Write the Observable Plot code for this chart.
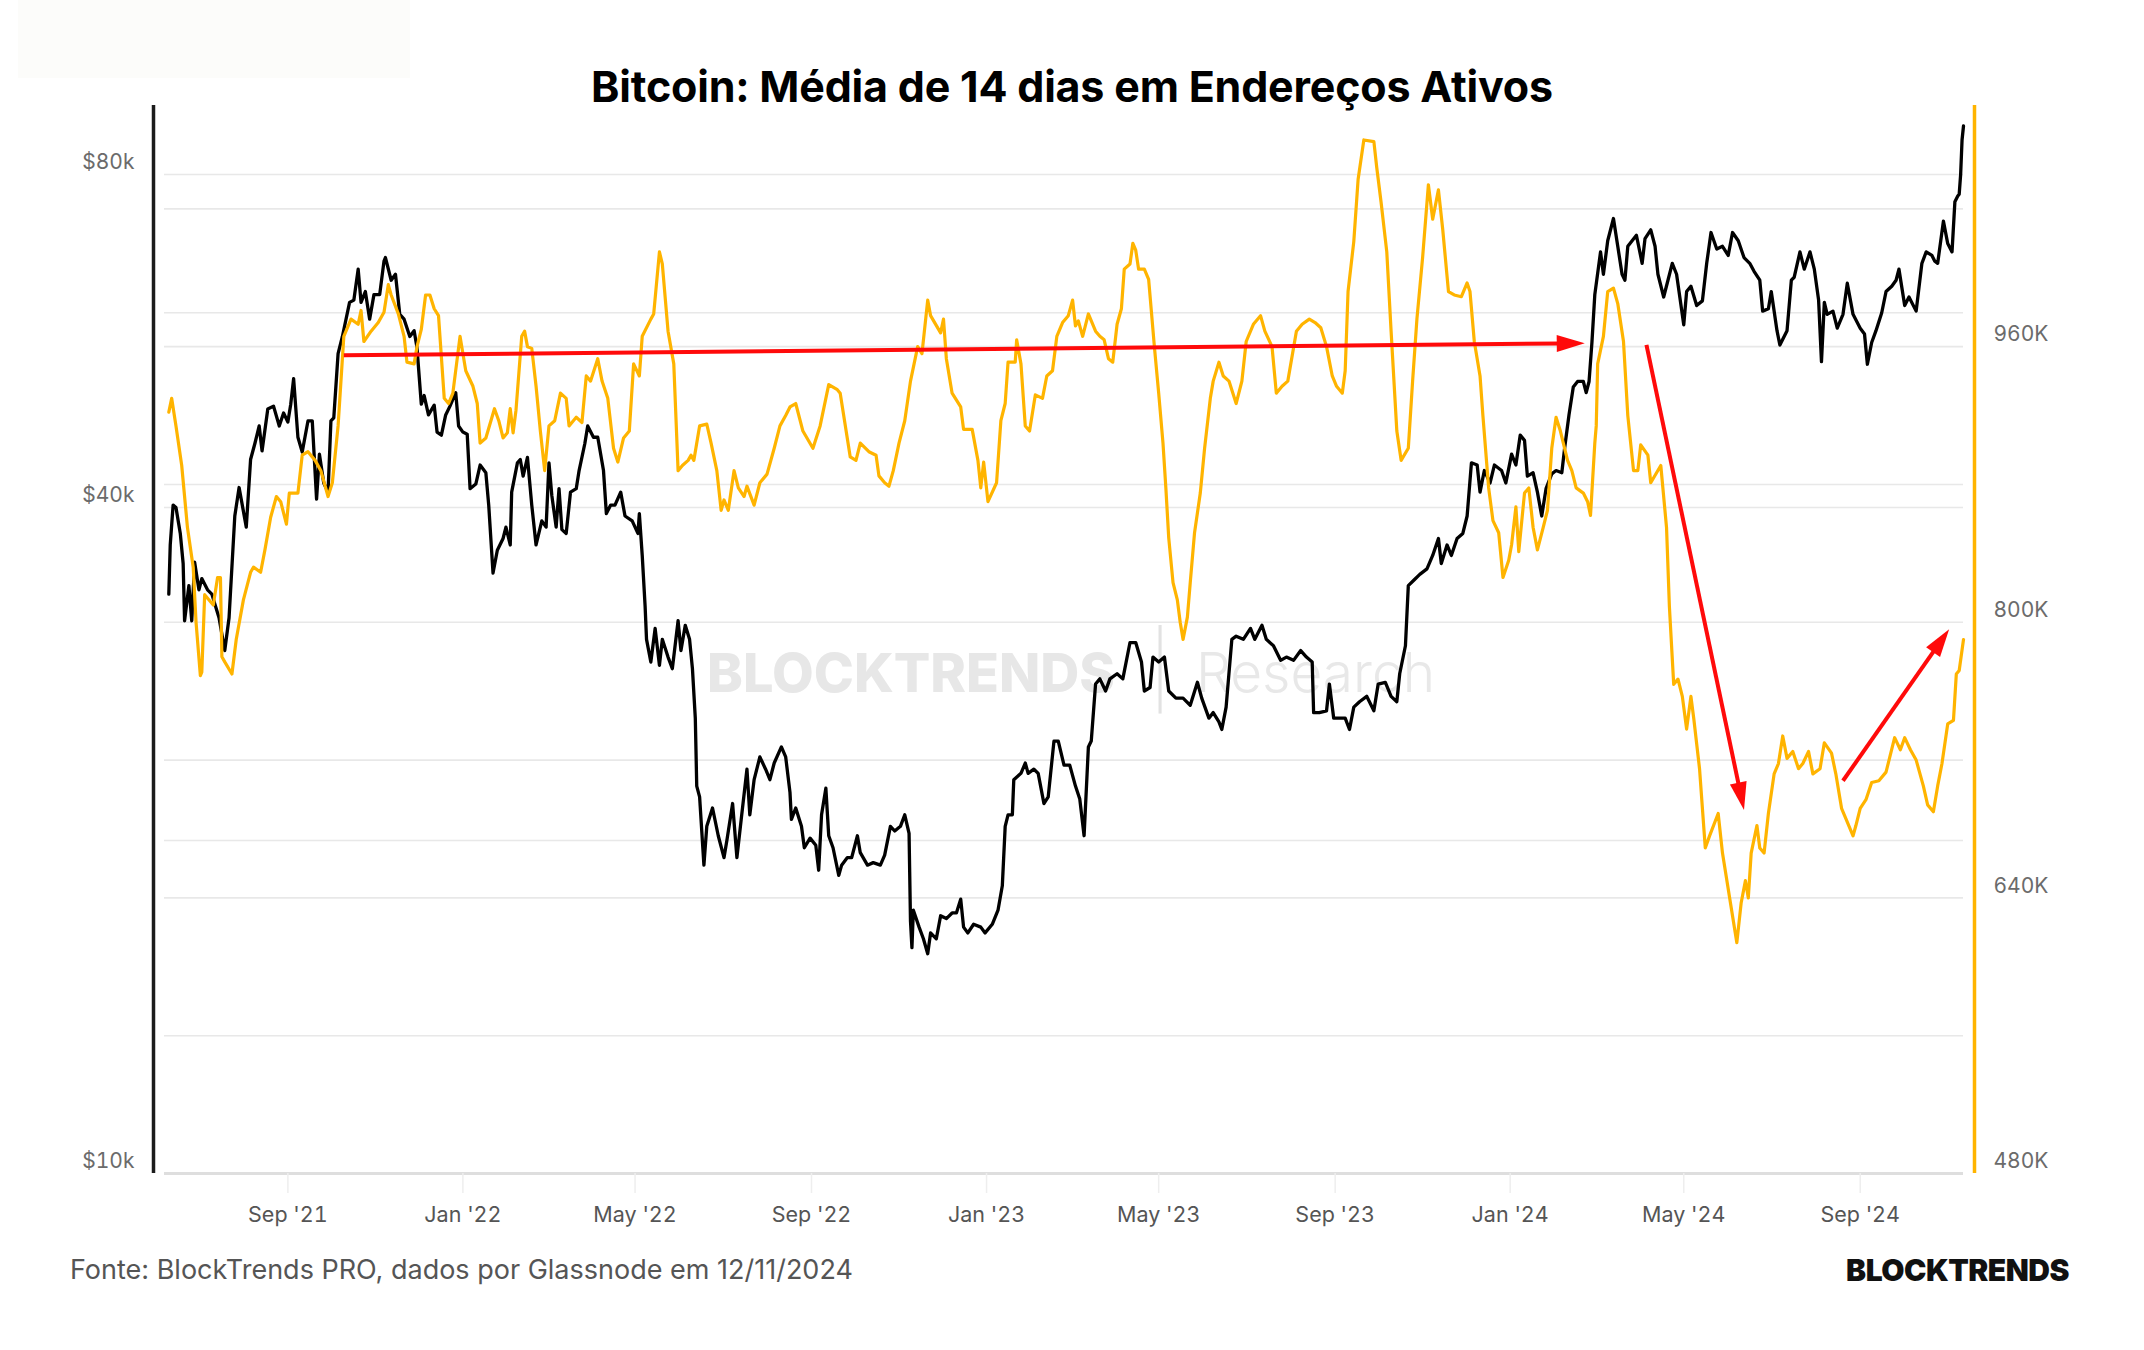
<!DOCTYPE html>
<html lang="pt-BR">
<head>
<meta charset="utf-8">
<title>Bitcoin: Média de 14 dias em Endereços Ativos</title>
<script src="https://cdn.jsdelivr.net/npm/d3@7"></script>
<script src="https://cdn.jsdelivr.net/npm/@observablehq/plot@0.6"></script>
<style>
  html, body { margin: 0; padding: 0; background: #fff; }
  body { width: 2144px; height: 1350px; position: relative; overflow: hidden; font-family: Inter, "Noto Sans", sans-serif; }
  #corner { position: absolute; left: 18px; top: 0; width: 392px; height: 78px; background: #fcfcfa; }
  #title { position: absolute; left: 0; width: 2144px; top: 61px; text-align: center; font-size: 43px; font-weight: 700; color: #000; line-height: 50px; letter-spacing: -0.2px; }
  #chart { position: absolute; left: 0; top: 100px; }
  #source { position: absolute; left: 70px; top: 1254px; font-size: 27px; line-height: 32px; color: #555; }
  #brand { position: absolute; right: 75px; top: 1254px; font-size: 30px; line-height: 32px; font-weight: 900; color: #111; letter-spacing: -0.5px; }
</style>
</head>
<body>
<div id="corner"></div>
<div id="title">Bitcoin: Média de 14 dias em Endereços Ativos</div>
<div id="chart"></div>
<div id="source">Fonte: BlockTrends PRO, dados por Glassnode em 12/11/2024</div>
<div id="brand">BLOCKTRENDS</div>
<script>
// ---- Bitcoin price (USD thousands), left log axis ----
const priceDates = [
  "2021-06-10","2021-06-11","2021-06-13","2021-06-15","2021-06-18","2021-06-20","2021-06-21","2021-06-24","2021-06-26","2021-06-28",
  "2021-07-01","2021-07-03","2021-07-07","2021-07-10","2021-07-15","2021-07-19","2021-07-22","2021-07-26","2021-07-29","2021-08-03",
  "2021-08-06","2021-08-09","2021-08-12","2021-08-14","2021-08-18","2021-08-22","2021-08-26","2021-08-29","2021-09-01","2021-09-03",
  "2021-09-05","2021-09-08","2021-09-11","2021-09-15","2021-09-18","2021-09-21","2021-09-23","2021-09-26","2021-09-29","2021-10-01",
  "2021-10-03","2021-10-06","2021-10-09","2021-10-14","2021-10-17","2021-10-20","2021-10-22","2021-10-25","2021-10-28","2021-10-31",
  "2021-11-04","2021-11-07","2021-11-08","2021-11-12","2021-11-15","2021-11-18","2021-11-21","2021-11-25","2021-11-28","2021-11-30",
  "2021-12-03","2021-12-05","2021-12-08","2021-12-12","2021-12-14","2021-12-17","2021-12-20","2021-12-23","2021-12-27","2021-12-29",
  "2022-01-01","2022-01-04","2022-01-06","2022-01-10","2022-01-13","2022-01-17","2022-01-19","2022-01-22","2022-01-25","2022-01-29",
  "2022-01-31","2022-02-03","2022-02-04","2022-02-08","2022-02-10","2022-02-12","2022-02-15","2022-02-18","2022-02-21","2022-02-25",
  "2022-02-28","2022-03-02","2022-03-04","2022-03-07","2022-03-09","2022-03-11","2022-03-14","2022-03-17","2022-03-21","2022-03-23",
  "2022-03-27","2022-03-29","2022-04-02","2022-04-05","2022-04-09","2022-04-11","2022-04-14","2022-04-17","2022-04-21","2022-04-24",
  "2022-04-29","2022-05-03","2022-05-04","2022-05-06","2022-05-08","2022-05-09","2022-05-12","2022-05-15","2022-05-18","2022-05-20",
  "2022-05-24","2022-05-27","2022-05-31","2022-06-02","2022-06-05","2022-06-08","2022-06-10","2022-06-12","2022-06-13","2022-06-15",
  "2022-06-18","2022-06-20","2022-06-24","2022-06-28","2022-07-02","2022-07-04","2022-07-08","2022-07-11","2022-07-14","2022-07-18",
  "2022-07-20","2022-07-23","2022-07-27","2022-07-31","2022-08-03","2022-08-06","2022-08-11","2022-08-14","2022-08-17","2022-08-18",
  "2022-08-21","2022-08-25","2022-08-27","2022-08-31","2022-09-04","2022-09-06","2022-09-08","2022-09-11","2022-09-13","2022-09-16",
  "2022-09-20","2022-09-22","2022-09-26","2022-09-29","2022-10-03","2022-10-05","2022-10-10","2022-10-14","2022-10-19","2022-10-22",
  "2022-10-26","2022-10-29","2022-11-02","2022-11-05","2022-11-08","2022-11-09","2022-11-10","2022-11-11","2022-11-15","2022-11-18",
  "2022-11-21","2022-11-23","2022-11-27","2022-11-30","2022-12-04","2022-12-08","2022-12-11","2022-12-14","2022-12-16","2022-12-19",
  "2022-12-23","2022-12-28","2022-12-31","2023-01-05","2023-01-09","2023-01-12","2023-01-14","2023-01-16","2023-01-19","2023-01-20",
  "2023-01-25","2023-01-28","2023-01-30","2023-02-03","2023-02-06","2023-02-10","2023-02-13","2023-02-17","2023-02-20","2023-02-24",
  "2023-02-28","2023-03-04","2023-03-07","2023-03-10","2023-03-13","2023-03-15","2023-03-18","2023-03-21","2023-03-25","2023-03-28",
  "2023-04-02","2023-04-06","2023-04-11","2023-04-15","2023-04-19","2023-04-21","2023-04-25","2023-04-27","2023-05-01","2023-05-05",
  "2023-05-08","2023-05-13","2023-05-18","2023-05-23","2023-05-28","2023-05-31","2023-06-05","2023-06-08","2023-06-12","2023-06-14",
  "2023-06-17","2023-06-21","2023-06-24","2023-06-29","2023-07-04","2023-07-07","2023-07-12","2023-07-15","2023-07-20","2023-07-25",
  "2023-07-29","2023-08-03","2023-08-08","2023-08-12","2023-08-16","2023-08-17","2023-08-21","2023-08-26","2023-08-28","2023-08-31",
  "2023-09-04","2023-09-08","2023-09-11","2023-09-14","2023-09-18","2023-09-23","2023-09-28","2023-10-01","2023-10-06","2023-10-10",
  "2023-10-14","2023-10-16","2023-10-20","2023-10-22","2023-10-26","2023-10-30","2023-11-04","2023-11-08","2023-11-12","2023-11-14",
  "2023-11-18","2023-11-21","2023-11-25","2023-11-29","2023-12-02","2023-12-05","2023-12-09","2023-12-11","2023-12-14","2023-12-18",
  "2023-12-21","2023-12-26","2023-12-29","2024-01-02","2024-01-05","2024-01-08","2024-01-11","2024-01-13","2024-01-17","2024-01-20",
  "2024-01-23","2024-01-26","2024-01-30","2024-02-02","2024-02-06","2024-02-08","2024-02-11","2024-02-14","2024-02-17","2024-02-21",
  "2024-02-23","2024-02-25","2024-02-27","2024-02-29","2024-03-04","2024-03-06","2024-03-09","2024-03-13","2024-03-16","2024-03-19",
  "2024-03-21","2024-03-23","2024-03-26","2024-03-29","2024-04-02","2024-04-04","2024-04-08","2024-04-11","2024-04-13","2024-04-17",
  "2024-04-20","2024-04-23","2024-04-26","2024-05-01","2024-05-03","2024-05-06","2024-05-10","2024-05-14","2024-05-17","2024-05-20",
  "2024-05-24","2024-05-28","2024-06-01","2024-06-04","2024-06-08","2024-06-12","2024-06-16","2024-06-19","2024-06-23","2024-06-25",
  "2024-06-29","2024-07-01","2024-07-05","2024-07-07","2024-07-12","2024-07-15","2024-07-17","2024-07-21","2024-07-24","2024-07-28",
  "2024-07-31","2024-08-03","2024-08-05","2024-08-07","2024-08-09","2024-08-13","2024-08-16","2024-08-20","2024-08-23","2024-08-27",
  "2024-09-01","2024-09-04","2024-09-06","2024-09-09","2024-09-12","2024-09-16","2024-09-19","2024-09-23","2024-09-26","2024-09-28",
  "2024-10-02","2024-10-05","2024-10-10","2024-10-14","2024-10-17","2024-10-21","2024-10-23","2024-10-25","2024-10-29","2024-11-01",
  "2024-11-04","2024-11-06","2024-11-08","2024-11-09","2024-11-10","2024-11-11","2024-11-12"
];
const priceK = [
  33.4,37.0,40.2,40.0,37.9,35.6,31.6,34.0,31.6,35.7,
  33.7,34.5,33.7,33.4,31.8,29.7,31.8,39.3,41.7,38.4,
  44.2,45.7,47.4,45.0,49.1,49.4,47.4,48.7,47.8,49.6,
  52.3,46.3,44.9,47.9,47.9,40.7,44.7,42.1,41.3,47.9,
  48.2,55.1,57.1,61.3,61.6,65.7,61.3,62.7,59.2,62.3,
  62.3,66.8,67.3,64.2,65.0,59.8,59.2,57.1,57.8,55.8,
  49.6,50.5,48.5,49.5,46.8,46.5,48.5,49.4,50.8,47.4,
  46.8,46.6,41.6,42.0,43.7,43.0,40.2,34.9,36.6,37.5,
  38.4,37.0,41.3,43.9,44.2,42.7,44.4,40.2,37.0,38.9,
  38.4,43.9,41.0,38.4,41.6,38.2,37.9,41.3,41.6,43.2,
  45.7,47.4,46.3,46.3,43.2,39.5,40.2,40.2,41.3,39.3,
  38.9,37.9,39.5,36.2,32.6,30.4,29.0,31.1,28.8,30.4,
  29.3,28.6,31.6,29.7,31.3,30.4,28.6,25.8,22.4,21.9,
  19.0,20.6,21.4,20.2,19.3,20.0,21.6,19.3,20.9,23.2,
  21.1,22.7,23.8,23.2,22.7,23.5,24.3,23.8,22.1,20.9,
  21.4,20.6,19.7,20.1,19.8,18.8,21.1,22.3,20.2,19.7,
  18.6,19.0,19.3,19.3,20.2,19.5,19.0,19.1,19.0,19.4,
  20.6,20.4,20.6,21.1,20.3,16.9,16.0,17.3,16.7,16.3,
  15.8,16.5,16.3,17.1,17.0,17.2,17.2,17.7,16.7,16.5,
  16.8,16.7,16.5,16.8,17.3,18.2,20.6,21.1,21.1,22.7,
  23.0,23.5,23.0,23.2,23.0,21.6,21.9,24.6,24.6,23.4,
  23.4,22.4,21.8,20.2,24.3,24.6,27.7,28.0,27.3,28.0,
  28.3,28.0,30.2,30.2,29.0,27.3,27.5,29.3,29.0,29.3,
  27.3,26.9,26.9,26.5,27.8,26.9,25.8,26.1,25.6,25.2,
  26.4,30.4,30.6,30.4,31.1,30.4,31.3,30.4,30.0,29.1,
  29.3,29.1,29.7,29.3,29.0,26.1,26.1,26.2,27.7,25.8,
  25.8,25.8,25.2,26.4,26.7,27.0,26.2,27.7,27.8,27.0,
  26.7,28.3,30.0,34.0,34.4,34.8,35.2,36.2,37.5,35.6,
  37.0,36.2,37.5,37.9,39.3,43.9,43.7,41.3,43.2,42.1,
  43.7,43.2,42.1,44.7,43.7,46.5,46.0,42.7,43.0,41.3,
  39.3,41.6,42.9,43.2,43.0,45.3,48.5,51.4,52.0,52.0,
  50.8,52.0,56.4,62.3,68.1,65.0,69.7,73.0,68.9,65.0,
  64.2,68.9,69.7,70.5,66.5,70.0,71.3,68.9,65.0,62.0,
  64.2,66.5,65.0,58.5,62.7,63.4,60.9,61.5,66.5,70.9,
  68.5,68.9,67.6,70.9,69.7,67.3,66.5,65.4,64.2,60.2,
  60.5,62.7,57.8,56.1,57.8,64.2,64.6,68.1,65.7,68.1,
  65.7,61.6,54.2,61.3,59.8,60.2,58.1,59.8,63.8,59.8,
  58.1,57.4,53.9,56.4,57.8,60.0,62.7,63.4,64.2,65.7,
  60.9,62.0,60.2,66.5,68.1,67.6,66.8,66.5,72.6,69.3,
  68.1,75.6,76.5,76.8,80.0,86.0,88.5
];

// ---- 14-day average of active addresses (thousands), right linear axis ----
const addrDates = [
  "2021-06-10","2021-06-12","2021-06-15","2021-06-19","2021-06-23","2021-06-27","2021-06-29","2021-07-02","2021-07-03","2021-07-05",
  "2021-07-11","2021-07-14","2021-07-16","2021-07-17","2021-07-19","2021-07-24","2021-07-27","2021-08-01","2021-08-06","2021-08-08",
  "2021-08-13","2021-08-16","2021-08-20","2021-08-24","2021-08-27","2021-08-31","2021-09-02","2021-09-08","2021-09-11","2021-09-15",
  "2021-09-20","2021-09-24","2021-09-29","2021-10-02","2021-10-06","2021-10-08","2021-10-10","2021-10-15","2021-10-20","2021-10-22",
  "2021-10-24","2021-10-29","2021-11-03","2021-11-07","2021-11-10","2021-11-12","2021-11-17","2021-11-21","2021-11-23","2021-11-28",
  "2021-11-30","2021-12-03","2021-12-06","2021-12-09","2021-12-12","2021-12-15","2021-12-19","2021-12-22","2021-12-25","2021-12-30",
  "2022-01-03","2022-01-08","2022-01-11","2022-01-13","2022-01-17","2022-01-23","2022-01-26","2022-01-29","2022-02-01","2022-02-03",
  "2022-02-05","2022-02-07","2022-02-11","2022-02-13","2022-02-15","2022-02-18","2022-02-21","2022-02-24","2022-02-27","2022-03-02",
  "2022-03-06","2022-03-10","2022-03-14","2022-03-16","2022-03-21","2022-03-25","2022-03-28","2022-03-31","2022-04-05","2022-04-08",
  "2022-04-12","2022-04-16","2022-04-19","2022-04-23","2022-04-27","2022-04-30","2022-05-04","2022-05-06","2022-05-12","2022-05-14",
  "2022-05-18","2022-05-20","2022-05-24","2022-05-28","2022-05-31","2022-06-03","2022-06-07","2022-06-09","2022-06-11","2022-06-15",
  "2022-06-20","2022-06-23","2022-06-27","2022-06-30","2022-07-02","2022-07-05","2022-07-09","2022-07-12","2022-07-16","2022-07-18",
  "2022-07-23","2022-07-27","2022-08-01","2022-08-06","2022-08-10","2022-08-14","2022-08-17","2022-08-21","2022-08-26","2022-09-02",
  "2022-09-07","2022-09-13","2022-09-19","2022-09-21","2022-09-28","2022-10-02","2022-10-05","2022-10-11","2022-10-16","2022-10-18",
  "2022-10-22","2022-10-25","2022-10-28","2022-11-01","2022-11-05","2022-11-09","2022-11-14","2022-11-17","2022-11-21","2022-11-23",
  "2022-11-30","2022-12-02","2022-12-04","2022-12-08","2022-12-14","2022-12-16","2022-12-22","2022-12-26","2022-12-28","2022-12-30",
  "2023-01-02","2023-01-08","2023-01-11","2023-01-14","2023-01-16","2023-01-21","2023-01-22","2023-01-25","2023-01-28","2023-01-31",
  "2023-02-04","2023-02-09","2023-02-12","2023-02-16","2023-02-19","2023-02-23","2023-02-27","2023-03-02","2023-03-04","2023-03-06",
  "2023-03-09","2023-03-13","2023-03-18","2023-03-21","2023-03-24","2023-03-27","2023-03-30","2023-04-02","2023-04-05","2023-04-07",
  "2023-04-11","2023-04-13","2023-04-15","2023-04-17","2023-04-21","2023-04-24","2023-04-28","2023-05-01","2023-05-04","2023-05-06",
  "2023-05-08","2023-05-11","2023-05-14","2023-05-16","2023-05-18","2023-05-21","2023-05-23","2023-05-26","2023-05-30","2023-06-02",
  "2023-06-06","2023-06-08","2023-06-12","2023-06-15","2023-06-19","2023-06-24","2023-06-28","2023-07-01","2023-07-06","2023-07-11",
  "2023-07-14","2023-07-19","2023-07-22","2023-07-26","2023-07-30","2023-08-05","2023-08-09","2023-08-14","2023-08-18","2023-08-22",
  "2023-08-26","2023-08-30","2023-09-02","2023-09-06","2023-09-08","2023-09-10","2023-09-14","2023-09-17","2023-09-21","2023-09-28",
  "2023-09-30","2023-10-03","2023-10-07","2023-10-10","2023-10-14","2023-10-17","2023-10-22","2023-10-25","2023-10-28","2023-11-01",
  "2023-11-05","2023-11-08","2023-11-12","2023-11-15","2023-11-19","2023-11-23","2023-11-28","2023-12-02","2023-12-04","2023-12-07",
  "2023-12-11","2023-12-13","2023-12-17","2023-12-20","2023-12-24","2023-12-27","2023-12-31","2024-01-02","2024-01-05","2024-01-07",
  "2024-01-11","2024-01-14","2024-01-17","2024-01-20","2024-01-24","2024-01-27","2024-01-30","2024-02-02","2024-02-05","2024-02-10",
  "2024-02-13","2024-02-16","2024-02-21","2024-02-24","2024-02-26","2024-02-29","2024-03-01","2024-03-02","2024-03-06","2024-03-09",
  "2024-03-13","2024-03-16","2024-03-20","2024-03-23","2024-03-27","2024-03-30","2024-04-01","2024-04-06","2024-04-08","2024-04-15",
  "2024-04-19","2024-04-21","2024-04-24","2024-04-27","2024-04-30","2024-05-03","2024-05-06","2024-05-08","2024-05-12","2024-05-16",
  "2024-05-19","2024-05-25","2024-05-28","2024-06-02","2024-06-07","2024-06-10","2024-06-13","2024-06-15","2024-06-17","2024-06-21",
  "2024-06-23","2024-06-26","2024-06-29","2024-07-03","2024-07-06","2024-07-09","2024-07-12","2024-07-16","2024-07-20","2024-07-23",
  "2024-07-27","2024-07-30","2024-08-04","2024-08-07","2024-08-12","2024-08-15","2024-08-19","2024-08-22","2024-08-27","2024-08-29",
  "2024-09-01","2024-09-05","2024-09-09","2024-09-14","2024-09-19","2024-09-22","2024-09-25","2024-09-29","2024-10-02","2024-10-06",
  "2024-10-10","2024-10-15","2024-10-18","2024-10-22","2024-10-25","2024-10-28","2024-11-01","2024-11-05","2024-11-07","2024-11-09",
  "2024-11-12"
];
const addrK = [
  922,930,914,891,855,832,800,769,771,816,
  810,826,826,780,777,770,790,813,829,832,
  829,842,861,873,870,857,875,875,897,899,
  894,888,873,881,914,940,966,976,973,981,
  963,969,974,980,996,990,979,966,951,950,
  960,970,990,990,982,978,930,927,933,966,
  946,937,927,904,907,924,917,907,910,924,
  910,923,966,969,960,959,937,911,888,914,
  917,933,930,914,919,916,943,940,953,940,
  930,901,893,907,911,950,943,966,976,979,
  1015,1008,969,950,888,891,894,897,894,914,
  915,904,888,865,871,865,888,878,873,879,
  868,881,886,901,914,920,925,927,911,901,
  914,938,935,933,896,894,904,899,897,885,
  881,879,888,904,917,940,960,956,987,978,
  968,976,953,933,925,912,912,894,878,893,
  870,881,917,927,951,951,964,950,914,911,
  932,930,943,946,966,974,978,987,972,975,
  966,979,969,966,964,953,951,973,982,1005,
  1008,1020,1016,1005,1005,999,960,933,904,878,
  849,823,813,800,790,803,823,852,875,901,
  930,940,951,943,940,927,940,963,973,978,
  969,960,933,937,940,969,973,976,974,971,
  960,943,937,933,946,992,1021,1057,1080,1079,
  1064,1044,1015,969,911,894,901,940,976,1012,
  1054,1034,1051,1028,992,990,989,997,992,963,
  943,920,878,859,852,826,836,845,867,841,
  875,878,855,842,855,865,901,919,911,894,
  888,878,875,870,862,904,914,950,966,992,
  994,985,963,920,888,888,903,897,881,891,
  855,809,764,767,757,738,757,744,715,669,
  676,689,666,640,614,637,650,640,666,682,
  669,666,689,712,718,734,721,725,715,718,
  725,712,715,730,724,712,692,686,676,682,
  692,697,707,708,713,723,733,726,733,726,
  720,705,694,690,705,718,741,743,770,772,
  790
];

// ---- axis ticks and gridlines ----
const xTickDates = ["2021-09-01","2022-01-01","2022-05-01","2022-09-01","2023-01-01","2023-05-01","2023-09-01","2024-01-01","2024-05-01","2024-09-01"];
const monthNames = ["Jan","Feb","Mar","Apr","May","Jun","Jul","Aug","Sep","Oct","Nov","Dec"];
const priceTicksK = [10, 40, 80];
const priceGridK = [20, 40, 60, 80];
const addrTicksK = [480, 640, 800, 960];
const addrGridK = [560, 640, 720, 800, 880, 960, 1040];

// ---- annotation arrows (in active-address units) ----
const arrowFromDates = ["2021-10-10", "2024-04-05", "2024-08-20"];
const arrowFromK = [955, 961, 708];
const arrowToDates = ["2024-02-22", "2024-06-12", "2024-11-02"];
const arrowToK = [962, 691, 796];

// ---- layout ----
const W = 2144, H = 1133;
const mL = 164, mR = 181, mT = 5, mB = 60;
const xDomain = [new Date("2021-06-07"), new Date("2024-11-12")];
const yMin = 10000, yMax = 92360;           // price domain (log)
const aMin = 480000, aMax = 1100000;        // active addresses domain (linear)
const ORANGE = "#ffb400";
const RED = "#ff0a0a";

// Map an address count onto the price axis so both series share the frame.
const addrToY = a => yMin * Math.pow(yMax / yMin, (a - aMin) / (aMax - aMin));
const yToAddr = p => aMin + (aMax - aMin) * Math.log(p / yMin) / Math.log(yMax / yMin);

const priceRows = priceDates.map((d, i) => ({date: new Date(d), price: priceK[i] * 1000}));
const addrRows = addrDates.map((d, i) => ({date: new Date(d), y: addrToY(addrK[i] * 1000)}));

// Same scale definitions as the plot, used to orient arrowheads in screen space.
const xs = d3.scaleUtc().domain(xDomain).range([mL, W - mR]);
const ys = d3.scaleLog().domain([yMin, yMax]).range([H - mB, mT]);

const HEAD_LEN = 28, HEAD_W = 17;
function headSymbol(ux, uy) {
  return {
    draw(ctx) {
      const bx = -ux * HEAD_LEN, by = -uy * HEAD_LEN;
      const px = -uy * HEAD_W / 2, py = ux * HEAD_W / 2;
      ctx.moveTo(0, 0);
      ctx.lineTo(bx + px, by + py);
      ctx.lineTo(bx - px, by - py);
      ctx.closePath();
    }
  };
}

const shafts = [];
const heads = [];
arrowFromDates.forEach((d, i) => {
  const from = {date: new Date(d), y: addrToY(arrowFromK[i] * 1000)};
  const to = {date: new Date(arrowToDates[i]), y: addrToY(arrowToK[i] * 1000)};
  const x0 = xs(from.date), y0 = ys(from.y), x1 = xs(to.date), y1 = ys(to.y);
  const len = Math.hypot(x1 - x0, y1 - y0);
  const ux = (x1 - x0) / len, uy = (y1 - y0) / len;
  const sx = x1 - ux * (HEAD_LEN - 4), sy = y1 - uy * (HEAD_LEN - 4);
  shafts.push({x1: from.date, y1: from.y, x2: xs.invert(sx), y2: ys.invert(sy)});
  heads.push({row: to, symbol: headSymbol(ux, uy)});
});

const fmtMonth = d => `${monthNames[d.getUTCMonth()]} '${String(d.getUTCFullYear()).slice(2)}`;

const plot = Plot.plot({
  width: W,
  height: H,
  marginLeft: mL,
  marginRight: mR,
  marginTop: mT,
  marginBottom: mB,
  style: {fontFamily: "Inter, 'Noto Sans', sans-serif", background: "transparent", overflow: "visible"},
  x: {type: "utc", domain: xDomain, label: null},
  y: {type: "log", domain: [yMin, yMax], label: null},
  marks: [
    // gridlines
    Plot.ruleY(priceGridK.map(k => k * 1000), {stroke: "#e8e8e8", strokeWidth: 1.6}),
    Plot.ruleY(addrGridK.map(k => addrToY(k * 1000)), {stroke: "#e8e8e8", strokeWidth: 1.6}),
    Plot.ruleY([yMin], {stroke: "#dedede", strokeWidth: 3}),

    // watermark
    Plot.text(["BLOCKTRENDS"], {frameAnchor: "middle", text: d => d, dx: 51, dy: 35, textAnchor: "end",
      fontSize: 54, fontWeight: 800, fill: "#e7e7e7"}),
    Plot.text(["|"], {frameAnchor: "middle", text: d => d, dx: 96, dy: 33, fontSize: 74, fontWeight: 200, fill: "#e2e2e2"}),
    Plot.text(["Research"], {frameAnchor: "middle", text: d => d, dx: 132, dy: 35, textAnchor: "start",
      fontSize: 55, fontWeight: 300, fill: "#e8e8e8"}),

    // axis lines
    Plot.ruleX([xDomain[0]], {dx: -11, stroke: "#1c1c1c", strokeWidth: 3.5}),
    Plot.ruleX([xDomain[1]], {dx: 11, stroke: ORANGE, strokeWidth: 3.5}),

    // axes
    Plot.axisY(priceTicksK.map(k => k * 1000), {anchor: "left", tickSize: 0, tickPadding: 30, dy: -12,
      tickFormat: d => `$${Math.round(d / 1000)}k`, fill: "#6b6b6b", fontSize: 21, label: null}),
    Plot.axisY(addrTicksK.map(k => addrToY(k * 1000)), {anchor: "right", tickSize: 0, tickPadding: 30, dy: -12,
      tickFormat: d => `${Math.round(yToAddr(d) / 1000)}K`, fill: "#6b6b6b", fontSize: 21, label: null}),
    Plot.axisX(xTickDates.map(d => new Date(d)), {anchor: "bottom", tickSize: 20, tickPadding: 13,
      stroke: "#eeeeee", strokeWidth: 1.5, fill: "#555", fontSize: 21.5, tickFormat: fmtMonth, label: null}),

    // series
    Plot.line(priceRows, {x: "date", y: "price", stroke: "#000", strokeWidth: 3.3}),
    Plot.line(addrRows, {x: "date", y: "y", stroke: ORANGE, strokeWidth: 3.2}),

    // annotation arrows
    Plot.link(shafts, {x1: "x1", y1: "y1", x2: "x2", y2: "y2", stroke: RED, strokeWidth: 4}),
    ...heads.map(h => Plot.dot([h.row], {x: "date", y: "y", r: 10, symbol: h.symbol, fill: RED, stroke: "none"}))
  ]
});

document.getElementById("chart").appendChild(plot);
</script>
</body>
</html>
